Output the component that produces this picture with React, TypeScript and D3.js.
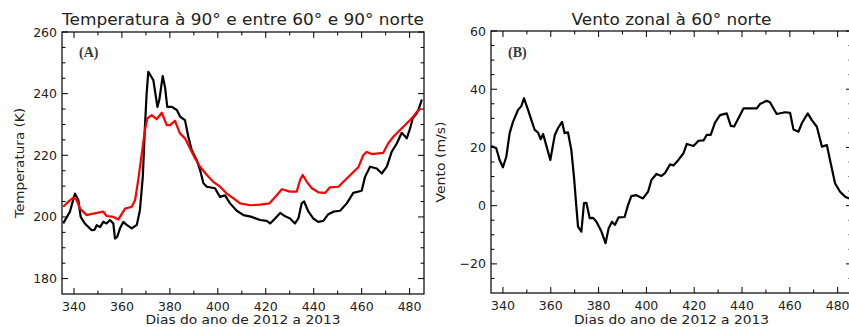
import React from "react";
import * as d3 from "d3";

// ---------- DATA ----------
const tempDays90 = [335.5, 338.3, 340.4, 341.8, 342.8, 344.5, 347.4, 348.5, 349.5, 350.9, 352.2, 353.6, 355, 356.4, 357.1, 358, 359.2, 360.6, 362, 364.1, 366.2, 367.5, 368.7, 369.6, 370.3, 371, 373.1, 374.8, 375.6, 377, 378, 378.9, 380.8, 382.9, 384.3, 386.3, 387.7, 389.1, 391.2, 392.6, 394, 395.4, 398.8, 400.9, 403, 405.1, 407.9, 410.7, 414.2, 417.6, 420.4, 421.8, 423.9, 426, 428.1, 430.1, 432.2, 433.6, 435, 436, 437.8, 439.8, 441.9, 444, 446.1, 448.2, 451, 453.8, 456.5, 460, 461.4, 463.5, 466.3, 468.4, 470.5, 472.5, 474.7, 476.7, 478.8, 480.2, 481.3, 483, 484.1, 485.1];
const temp90 = [197.9, 201.7, 207.6, 205.5, 200, 197.9, 195.7, 195.8, 197.3, 196.7, 198.4, 197.9, 199, 197.9, 193, 193.5, 196.3, 198.4, 197.4, 196.3, 197.4, 202.2, 213, 229.3, 240, 247.1, 244.4, 235.7, 238, 245.7, 242, 235.7, 235.7, 234.7, 232.5, 231.4, 226, 221.7, 218.4, 215.2, 210.9, 209.8, 209.3, 206.5, 207, 204.4, 202, 200.6, 200, 199, 198.7, 197.9, 199.5, 201.3, 200.2, 199.5, 197.9, 199.5, 204.5, 205, 201.7, 199.5, 198.4, 198.7, 200.9, 201.7, 202, 204.4, 207.8, 208.5, 213, 216.3, 215.7, 214.1, 216.3, 221.1, 223.9, 227.3, 225.5, 228.7, 232, 233.6, 235.7, 238.1];

const tempDays6090 = [335.5, 337.6, 339.7, 341.1, 342.5, 345.3, 348.1, 352.2, 353.6, 356.4, 358.5, 360, 361.3, 364.1, 365.5, 366.8, 368.3, 369.6, 370.6, 372.4, 374.5, 376.6, 378.7, 380.1, 382.1, 384.2, 386.3, 388.4, 390.5, 392.6, 395.4, 398.1, 400.9, 403.7, 406.5, 409.3, 413.5, 417.6, 421.5, 423.9, 426.7, 430.1, 432.9, 434.3, 435.4, 437.1, 439.2, 441.9, 444.7, 446.8, 450.3, 452.4, 455.9, 458.6, 460.7, 462.1, 464.2, 469, 471.1, 473.2, 476, 478.1, 480.9, 483, 484.6];
const temp6090 = [203.3, 204.9, 206.3, 205.5, 202.7, 200.6, 201.1, 201.7, 200.3, 200, 199.2, 201.1, 202.7, 203.3, 205.5, 212, 220.6, 228.2, 232, 233, 231.7, 233.8, 229.8, 229.8, 231.2, 227.1, 225.5, 222.2, 219, 216.3, 213.6, 211.4, 209.8, 207.6, 206, 204.4, 203.8, 204, 204.4, 206.5, 209, 208.2, 208.2, 212, 213.6, 211.4, 209.3, 208, 207.8, 209.6, 209.8, 211.4, 214.1, 216.1, 220.1, 221.1, 220.4, 220.8, 223.9, 226, 228.2, 229.8, 232, 234.1, 235.2];

const windDays = [335.1, 337.2, 338.6, 340, 341.4, 342.8, 344.2, 346.3, 347.7, 348.8, 350.5, 351.9, 353.3, 354.7, 355.8, 356.8, 358.1, 359.8, 361.7, 363, 364.7, 365.8, 367.2, 368.6, 369.7, 370.7, 371.4, 372.8, 373.9, 374.9, 376.3, 377.7, 379.1, 381.2, 382.9, 384.2, 385.6, 386.8, 388.4, 390.9, 392.3, 393.7, 395.8, 398.6, 400.7, 402.1, 404.2, 406.3, 407.8, 409.9, 411.3, 413.4, 415.5, 416.9, 419.7, 421.8, 423.9, 425.2, 426.9, 428.7, 430.8, 433.6, 435.3, 436.7, 438.5, 440.6, 442.7, 446.2, 447.5, 450.3, 451.7, 454.5, 458, 460.1, 461.5, 463.6, 465, 467.5, 469.2, 471.3, 473.4, 475.5, 476.8, 478.9, 481, 483.1, 484.8];
const wind60 = [20.5, 19.7, 15.7, 13.2, 16.8, 24.9, 28.8, 32.9, 34.2, 36.9, 32.9, 29.4, 26, 25.1, 22.8, 24.6, 20.8, 15.7, 24.3, 26.6, 28.8, 24.9, 25.2, 19.1, 10, -0.3, -7.2, -8.9, 0.9, 1, -4.3, -4.2, -5.5, -8.9, -12.9, -7.8, -5.5, -6.6, -4, -3.9, 0.2, 3.3, 3.6, 2.5, 4.8, 8.8, 10.9, 10.2, 11.2, 14.2, 13.8, 15.7, 18, 21.2, 20.5, 22.3, 22.4, 24.3, 24.3, 28.5, 31.1, 31.7, 27.4, 27.2, 30, 33.4, 33.4, 33.4, 34.9, 36, 35.5, 31.5, 32.1, 31.9, 26.2, 25.4, 28.3, 31.7, 29.4, 27.1, 20.3, 20.8, 15.7, 7.7, 4.8, 3.1, 2.5];

const xMajor = [340, 360, 380, 400, 420, 440, 460, 480];
const tempMajor = [180, 200, 220, 240, 260];
const windMajor = [-20, 0, 20, 40, 60];

const titleA = "Temperatura à 90° e entre 60° e 90° norte";
const titleB = "Vento zonal à 60° norte";
const xLabel = "Dias do ano de 2012 a 2013";
const yLabelA = "Temperatura (K)";
const yLabelB = "Vento (m/s)";

const FONT = "'DejaVu Sans', sans-serif";
const TXT = "#222";

type PanelProps = {
  id: string;
  x0: number; x1: number; y0: number; y1: number;
  yDomain: [number, number];
  yMajor: number[];
  series: { days: number[]; vals: number[]; color: string }[];
  title: string; titleLen: number;
  yLabel: string; yLabelX: number; yLabelLen: number;
  tag: string;
};

function Panel(p: PanelProps) {
  const x = d3.scaleLinear().domain([335, 486]).range([p.x0, p.x1]);
  const y = d3.scaleLinear().domain(p.yDomain).range([p.y1, p.y0]);
  const xMinor = d3.range(330, 490, 10).filter((v) => v > 335 && v < 486 && !xMajor.includes(v));
  const yMinor = d3.range(p.yDomain[0], p.yDomain[1] + 0.1, 5).filter((v) => !p.yMajor.includes(v) && v > p.yDomain[0] && v < p.yDomain[1]);
  const line = d3.line<[number, number]>().x((d) => x(d[0])).y((d) => y(d[1]));
  const MJ = 6, MN = 3.5;
  const cx = (p.x0 + p.x1) / 2;
  const cy = (p.y0 + p.y1) / 2;
  return (
    <g>
      <defs>
        <clipPath id={p.id}>
          <rect x={p.x0} y={p.y0} width={p.x1 - p.x0} height={p.y1 - p.y0} />
        </clipPath>
      </defs>
      <rect x={p.x0} y={p.y0} width={p.x1 - p.x0} height={p.y1 - p.y0} fill="none" stroke="#000" strokeWidth={1.2} />
      {xMajor.map((v) => (
        <g key={"xm" + v}>
          <line x1={x(v)} x2={x(v)} y1={p.y1} y2={p.y1 - MJ} stroke="#000" strokeWidth={1} />
          <line x1={x(v)} x2={x(v)} y1={p.y0} y2={p.y0 + MJ} stroke="#000" strokeWidth={1} />
          <text x={x(v)} y={p.y1 + 16.5} textAnchor="middle" fontSize={12.5} fontFamily={FONT} fill={TXT}>{v}</text>
        </g>
      ))}
      {xMinor.map((v) => (
        <g key={"xn" + v}>
          <line x1={x(v)} x2={x(v)} y1={p.y1} y2={p.y1 - MN} stroke="#000" strokeWidth={1} />
          <line x1={x(v)} x2={x(v)} y1={p.y0} y2={p.y0 + MN} stroke="#000" strokeWidth={1} />
        </g>
      ))}
      {p.yMajor.map((v) => (
        <g key={"ym" + v}>
          <line x1={p.x0} x2={p.x0 + MJ} y1={y(v)} y2={y(v)} stroke="#000" strokeWidth={1} />
          <line x1={p.x1} x2={p.x1 - MJ} y1={y(v)} y2={y(v)} stroke="#000" strokeWidth={1} />
          <text x={p.x0 - 5} y={y(v)} dy="0.36em" textAnchor="end" fontSize={12.5} fontFamily={FONT} fill={TXT}>{v < 0 ? "\u2212" + Math.abs(v) : v}</text>
        </g>
      ))}
      {yMinor.map((v) => (
        <g key={"yn" + v}>
          <line x1={p.x0} x2={p.x0 + MN} y1={y(v)} y2={y(v)} stroke="#000" strokeWidth={1} />
          <line x1={p.x1} x2={p.x1 - MN} y1={y(v)} y2={y(v)} stroke="#000" strokeWidth={1} />
        </g>
      ))}
      <g clipPath={`url(#${p.id})`}>
        {p.series.map((s, i) => (
          <path key={i} d={line(s.days.map((d, j) => [d, s.vals[j]] as [number, number])) || ""} fill="none" stroke={s.color} strokeWidth={2.2} strokeLinejoin="round" />
        ))}
      </g>
      <text x={cx} y={25} textAnchor="middle" fontSize={15.5} fontFamily={FONT} fill={TXT} textLength={p.titleLen} lengthAdjust="spacingAndGlyphs">{p.title}</text>
      <text x={cx} y={324} textAnchor="middle" fontSize={12} fontFamily={FONT} fill={TXT} textLength={195} lengthAdjust="spacingAndGlyphs">{xLabel}</text>
      <text transform={`translate(${p.yLabelX},${cy}) rotate(-90)`} textAnchor="middle" fontSize={13} fontFamily={FONT} fill={TXT} textLength={p.yLabelLen} lengthAdjust="spacingAndGlyphs">{p.yLabel}</text>
      <text x={p.x0 + 17} y={57} fontSize={14} fontFamily="'Liberation Serif', 'Times New Roman', serif" fontWeight="bold" fill="#3a3a3a">{p.tag}</text>
    </g>
  );
}

export default function App() {
  return (
    <div style={{ position: "fixed", left: 0, top: 0, background: "#fff" }}>
      <svg width={849} height={327} style={{ display: "block" }}>
        <rect width={849} height={327} fill="#fff" />
        <Panel
          id="clipA" x0={62} x1={424} y0={32} y1={294}
          yDomain={[175, 260]} yMajor={tempMajor}
          series={[
            { days: tempDays90, vals: temp90, color: "#000" },
            { days: tempDays6090, vals: temp6090, color: "#ff0000" },
          ]}
          title={titleA} titleLen={362}
          yLabel={yLabelA} yLabelX={24} yLabelLen={110}
          tag="(A)"
        />
        <Panel
          id="clipB" x0={491} x1={852} y0={31} y1={293}
          yDomain={[-30, 60]} yMajor={windMajor}
          series={[{ days: windDays, vals: wind60, color: "#000" }]}
          title={titleB} titleLen={200}
          yLabel={yLabelB} yLabelX={445} yLabelLen={81}
          tag="(B)"
        />
      </svg>
    </div>
  );
}
